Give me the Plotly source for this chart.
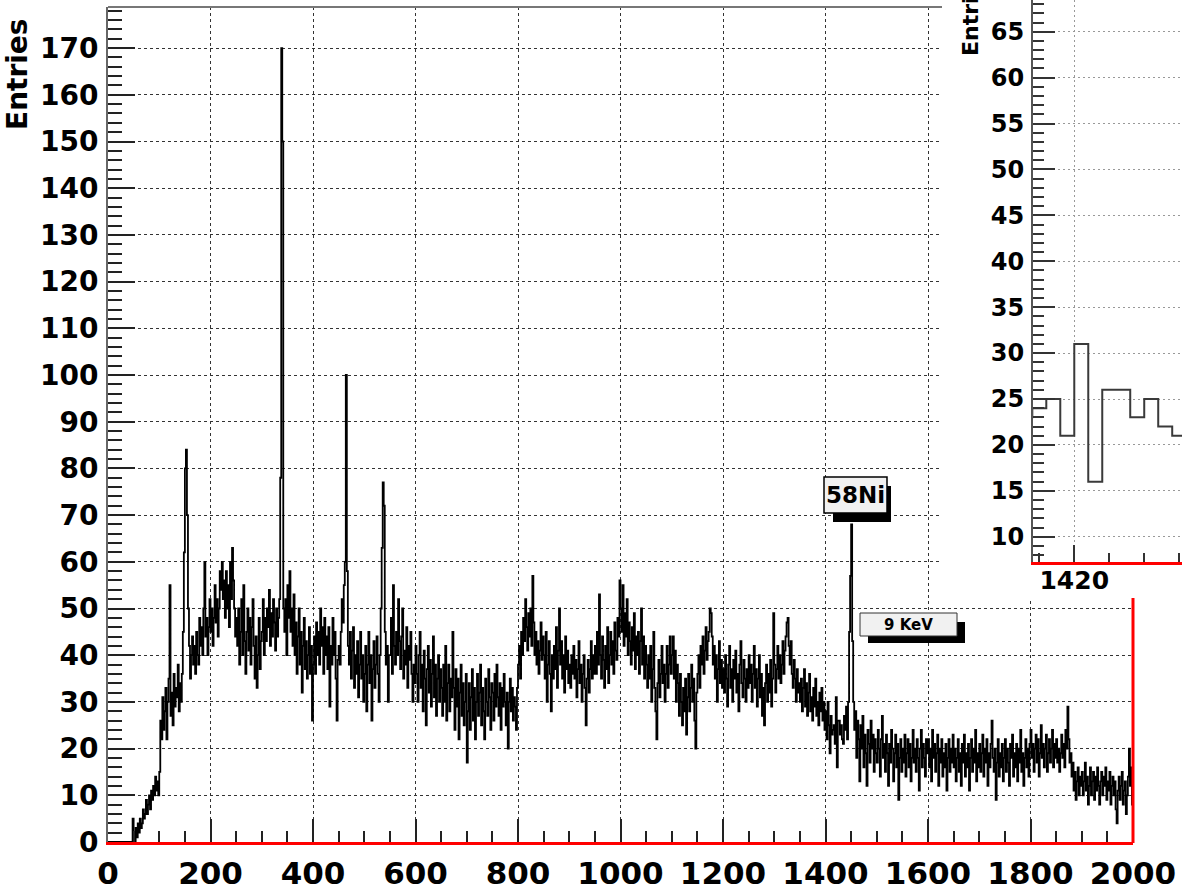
import plotly.graph_objects as go

W, H = 1182, 893

# Energy spectrum, 2-unit bins from 0 to 2000 (counts per bin)
bin_width = 2
counts = [
    0, 0, 0, 0, 0, 0, 0, 0, 0, 0, 0, 0, 0, 0, 0, 0, 0, 0, 0, 0, 0, 0, 0, 0, 5,
    2, 0, 3, 1, 4, 2, 5, 3, 4, 7, 5, 6, 9, 6, 8, 10, 7, 11, 9, 12, 10, 14, 11, 13, 10,
    15, 26, 22, 31, 24, 28, 33, 22, 30, 35, 55, 27, 32, 25, 36, 29, 33, 31, 38, 28, 34, 30, 36, 45, 62,
    80, 84, 70, 50, 42, 35, 40, 44, 38, 42, 36, 45, 40, 38, 48, 42, 46, 40, 50, 60, 44, 48, 40, 46, 52,
    45, 50, 42, 48, 55, 47, 52, 44, 50, 58, 54, 60, 52, 56, 48, 58, 50, 55, 46, 60, 52, 63, 56, 50, 44,
    48, 42, 50, 38, 45, 52, 40, 55, 43, 36, 45, 50, 41, 48, 38, 46, 52, 42, 35, 44, 33, 40, 48, 37, 43,
    45, 52, 40, 48, 43, 50, 46, 54, 42, 49, 44, 52, 47, 41, 50, 44, 48, 52, 78, 170, 150, 50, 45, 52, 40,
    55, 48, 58, 45, 50, 42, 53, 40, 47, 36, 44, 50, 38, 45, 32, 42, 48, 37, 43, 35, 40, 46, 36, 42, 26,
    38, 44, 36, 47, 40, 45, 38, 50, 42, 46, 36, 48, 40, 44, 37, 46, 29, 42, 38, 48, 40, 45, 35, 26, 39,
    42, 38, 45, 52, 47, 55, 60, 100, 58, 42, 38, 45, 35, 41, 46, 33, 40, 36, 43, 31, 38, 45, 35, 40, 30,
    36, 42, 28, 38, 45, 34, 40, 26, 37, 43, 33, 38, 44, 36, 30, 40, 50, 63, 77, 72, 45, 38, 42, 30, 40,
    40, 48, 36, 55, 42, 38, 45, 40, 52, 43, 37, 44, 50, 35, 41, 38, 46, 33, 42, 39, 45, 36, 30, 38, 34,
    42, 36, 30, 40, 45, 33, 38, 28, 41, 35, 25, 37, 42, 32, 39, 29, 36, 44, 31, 38, 27, 35, 40, 30, 37,
    33, 27, 38, 30, 42, 26, 34, 38, 28, 35, 31, 45, 33, 24, 37, 29, 35, 22, 32, 38, 27, 34, 25, 30, 36,
    17, 28, 34, 24, 31, 37, 26, 33, 22, 30, 36, 27, 32, 38, 25, 33, 28, 22, 35, 30, 27, 37, 31, 24, 34,
    32, 26, 36, 29, 38, 31, 27, 34, 24, 33, 29, 36, 30, 25, 32, 20, 30, 35, 28, 33, 26, 31, 29, 24, 33,
    38, 42, 35, 45, 40, 48, 43, 52, 46, 41, 49, 44, 50, 42, 57, 47, 40, 45, 38, 43, 36, 41, 47, 39, 44,
    40, 35, 45, 30, 38, 43, 36, 28, 40, 35, 42, 37, 46, 33, 41, 50, 38, 43, 35, 40, 32, 44, 37, 41, 34,
    38, 33, 40, 36, 42, 35, 39, 31, 37, 43, 34, 38, 30, 36, 40, 33, 25, 35, 39, 32, 37, 43, 35, 40, 36,
    42, 36, 45, 38, 53, 40, 35, 44, 39, 33, 42, 37, 46, 34, 40, 45, 38, 43, 36, 47, 41, 39, 48, 44, 56,
    50, 45, 55, 42, 49, 44, 52, 40, 47, 43, 38, 46, 41, 49, 37, 44, 40, 45, 36, 43, 50, 38, 44, 35, 42,
    38, 33, 40, 35, 42, 30, 37, 45, 33, 28, 22, 34, 39, 31, 36, 42, 34, 38, 30, 36, 42, 33, 38, 44, 36,
    40, 44, 35, 41, 30, 38, 34, 27, 36, 30, 25, 33, 28, 35, 23, 31, 36, 28, 33, 38, 30, 35, 26, 20, 32,
    36, 40, 33, 42, 38, 44, 36, 41, 46, 39, 43, 45, 50, 49, 44, 38, 42, 35, 40, 30, 37, 43, 34, 39, 33,
    37, 32, 40, 35, 29, 38, 42, 33, 37, 30, 39, 35, 41, 32, 36, 28, 38, 43, 34, 31, 39, 35, 30, 37, 33,
    40, 34, 38, 30, 36, 42, 33, 37, 29, 35, 40, 31, 36, 27, 33, 25, 34, 38, 30, 36, 32, 39, 29, 35, 49,
    38, 32, 37, 42, 35, 40, 34, 38, 43, 36, 41, 44, 47, 48, 42, 38, 43, 36, 33, 39, 35, 30, 37, 32, 34,
    30, 35, 28, 33, 37, 29, 34, 27, 32, 36, 28, 31, 26, 33, 29, 35, 27, 30, 25, 32, 28, 33, 26, 30, 24,
    28, 22, 30, 25, 19, 27, 23, 24, 25, 21, 31, 16, 26, 26, 23, 25, 22, 21, 27, 24, 29, 22, 30, 45, 57,
    68, 43, 30, 24, 28, 18, 26, 22, 13, 25, 20, 27, 16, 23, 19, 12, 24, 21, 17, 26, 20, 23, 15, 22, 19,
    17, 24, 20, 14, 22, 27, 18, 21, 15, 23, 19, 12, 21, 17, 24, 20, 13, 19, 23, 16, 21, 9, 18, 22, 15,
    20, 17, 23, 14, 19, 22, 16, 21, 13, 18, 24, 17, 20, 15, 22, 18, 11, 20, 24, 16, 21, 18, 14, 22, 19,
    22, 16, 20, 13, 24, 18, 21, 15, 19, 23, 12, 20, 17, 22, 14, 19, 16, 21, 11, 18, 22, 15, 20, 17, 23,
    16, 20, 13, 18, 22, 15, 19, 12, 21, 17, 23, 14, 19, 16, 21, 11, 18, 22, 15, 20, 17, 24, 13, 19, 16,
    21, 15, 19, 23, 14, 20, 17, 22, 12, 19, 16, 21, 26, 18, 15, 20, 9, 17, 22, 14, 19, 16, 21, 13, 18,
    22, 15, 20, 17, 12, 21, 18, 23, 14, 19, 16, 21, 13, 20, 17, 24, 15, 19, 12, 18, 22, 16, 20, 14, 21,
    24, 18, 21, 15, 20, 23, 17, 22, 14, 19, 25, 18, 21, 16, 20, 23, 15, 19, 22, 17, 20, 24, 16, 21, 18,
    22, 17, 20, 15, 19, 23, 18, 21, 16, 24, 20, 29, 22, 17, 19, 14, 17, 11, 15, 9, 13, 16, 10, 14, 12,
    15, 10, 13, 17, 11, 14, 8, 12, 16, 10, 13, 15, 9, 14, 11, 16, 12, 8, 13, 15, 10, 14, 12, 16, 9,
    13, 11, 15, 8, 12, 14, 10, 13, 7, 4, 11, 14, 9, 12, 15, 8, 11, 13, 6, 10, 14, 20, 12, 16, 8,
]

x_range = [0, 2000]
y_range = [0, 178.8]
inset_x_range = [1414.1, 1435.4]
inset_y_range = [7.25, 68.45]

peak_label = "58Ni"
energy_label = "9 KeV"
y_title = "Entries"

# step outline of the histogram (bin edges, last value repeated to close the final bin)
edges = [i * bin_width for i in range(len(counts) + 1)]
steps = counts + [counts[-1]]

FONT = "DejaVu Sans"


def fx(px):
    return px / W


def fy(py):
    return 1 - py / H


def bold(size):
    return dict(family=FONT, size=size, color="black", weight="bold")


fig = go.Figure()

# main spectrum
fig.add_trace(go.Scatter(
    x=edges, y=steps, mode="lines", line=dict(color="black", width=1.8, shape="hv"),
    xaxis="x", yaxis="y", showlegend=False, hoverinfo="skip",
))
# blank pad under the zoomed view
fig.add_trace(go.Scatter(
    x=[None], y=[None], mode="lines", xaxis="x2", yaxis="y2",
    showlegend=False, hoverinfo="skip",
))
# zoomed view around the 58Ni line
fig.add_trace(go.Scatter(
    x=edges, y=steps, mode="lines", line=dict(color="#3a3a3a", width=2, shape="hv"),
    xaxis="x3", yaxis="y3", showlegend=False, hoverinfo="skip",
))

fig.update_layout(
    template="none",
    width=W, height=H, autosize=False,
    margin=dict(l=0, r=0, t=0, b=0, pad=0, autoexpand=False),
    paper_bgcolor="white", plot_bgcolor="white",
    showlegend=False,
    xaxis=dict(
        domain=[fx(108), fx(1133)], range=x_range, anchor="y", automargin=False,
        tickmode="linear", tick0=0, dtick=200,
        ticks="inside", ticklen=23, tickwidth=2, tickcolor="#222",
        minor=dict(dtick=50, ticks="inside", ticklen=11, tickwidth=1.5, tickcolor="#222", showgrid=False),
        showgrid=True, gridcolor="#333", gridwidth=1, griddash="3px,3px",
        showline=True, linecolor="red", linewidth=3, zeroline=False,
        tickfont=bold(31), ticklabelstandoff=2,
    ),
    yaxis=dict(
        domain=[fy(842), fy(7)], range=y_range, anchor="x", automargin=False,
        tickmode="linear", tick0=0, dtick=10,
        ticks="inside", ticklen=27, tickwidth=2, tickcolor="#222",
        minor=dict(dtick=2, ticks="inside", ticklen=14, tickwidth=1.5, tickcolor="#222", showgrid=False),
        showgrid=True, gridcolor="#333", gridwidth=1, griddash="3px,3px",
        showline=True, linecolor="#666", linewidth=2, zeroline=False,
        tickfont=bold(28), ticklabelstandoff=2,
    ),
    xaxis2=dict(domain=[fx(942), 1], range=[0, 1], anchor="y2", visible=False, automargin=False),
    yaxis2=dict(domain=[fy(598), 1], range=[0, 1], anchor="x2", visible=False, automargin=False),
    xaxis3=dict(
        domain=[fx(1033), 1], range=inset_x_range, anchor="y3", automargin=False,
        tickmode="linear", tick0=0, dtick=20,
        ticks="inside", ticklen=17, tickwidth=2, tickcolor="#333",
        minor=dict(dtick=5, ticks="inside", ticklen=9, tickwidth=1.5, tickcolor="#333", showgrid=False),
        showgrid=True, gridcolor="#999", gridwidth=1, griddash="2px,3px",
        showline=True, linecolor="red", linewidth=3, zeroline=False,
        tickfont=bold(25), ticklabelstandoff=-6,
    ),
    yaxis3=dict(
        domain=[fy(562), 1], range=inset_y_range, anchor="x3", automargin=False,
        tickmode="linear", tick0=0, dtick=5,
        ticks="inside", ticklen=22, tickwidth=2, tickcolor="#333",
        minor=dict(dtick=1, ticks="inside", ticklen=11, tickwidth=1.5, tickcolor="#333", showgrid=False),
        showgrid=True, gridcolor="#999", gridwidth=1, griddash="2px,3px",
        showline=True, linecolor="#555", linewidth=2, zeroline=False,
        tickfont=bold(24), ticklabelstandoff=2,
    ),
)

shapes = [
    # frame: top edge of the main pad and its right edge below the zoomed view
    dict(type="line", xref="paper", yref="paper", x0=fx(108), x1=fx(942), y0=fy(7), y1=fy(7),
         line=dict(color="#777", width=2)),
    dict(type="line", xref="paper", yref="paper", x0=fx(1133), x1=fx(1133), y0=fy(598), y1=fy(843),
         line=dict(color="red", width=3)),
    # 58Ni label box with drop shadow
    dict(type="rect", xref="paper", yref="paper", x0=fx(833), x1=fx(891), y0=fy(522), y1=fy(486),
         fillcolor="black", line=dict(width=0)),
    dict(type="rect", xref="paper", yref="paper", x0=fx(824), x1=fx(887), y0=fy(513), y1=fy(477),
         fillcolor="#f1f1f1", line=dict(color="black", width=1.5)),
    # 9 KeV label box with drop shadow
    dict(type="rect", xref="paper", yref="paper", x0=fx(868), x1=fx(965), y0=fy(643), y1=fy(622),
         fillcolor="black", line=dict(width=0)),
    dict(type="rect", xref="paper", yref="paper", x0=fx(860), x1=fx(957), y0=fy(636), y1=fy(613),
         fillcolor="#f1f1f1", line=dict(color="#333", width=1)),
]
for s in shapes:
    s["layer"] = "above"
fig.update_layout(shapes=shapes)

annotations = [
    dict(text=y_title, xref="paper", yref="paper", x=fx(17), y=fy(16), xanchor="center", yanchor="top",
         textangle=-90, showarrow=False, font=bold(28)),
    dict(text=y_title, xref="paper", yref="paper", x=fx(970), y=fy(58), xanchor="center", yanchor="bottom",
         textangle=-90, showarrow=False, font=bold(22)),
    dict(text=peak_label, xref="paper", yref="paper", x=fx(855.5), y=fy(495), xanchor="center", yanchor="middle",
         showarrow=False, font=bold(23)),
    dict(text=energy_label, xref="paper", yref="paper", x=fx(908), y=fy(625), xanchor="center", yanchor="middle",
         showarrow=False, font=bold(15)),
]
fig.update_layout(annotations=annotations)

# page without margins or scrollbars, so the figure fills the window exactly
page_css = (
    "document.documentElement.style.margin='0';"
    "document.documentElement.style.overflow='hidden';"
    "document.body.style.margin='0';"
    "document.body.style.overflow='hidden';"
)

fig.write_html("out.html", config=dict(displayModeBar=False), post_script=page_css)
